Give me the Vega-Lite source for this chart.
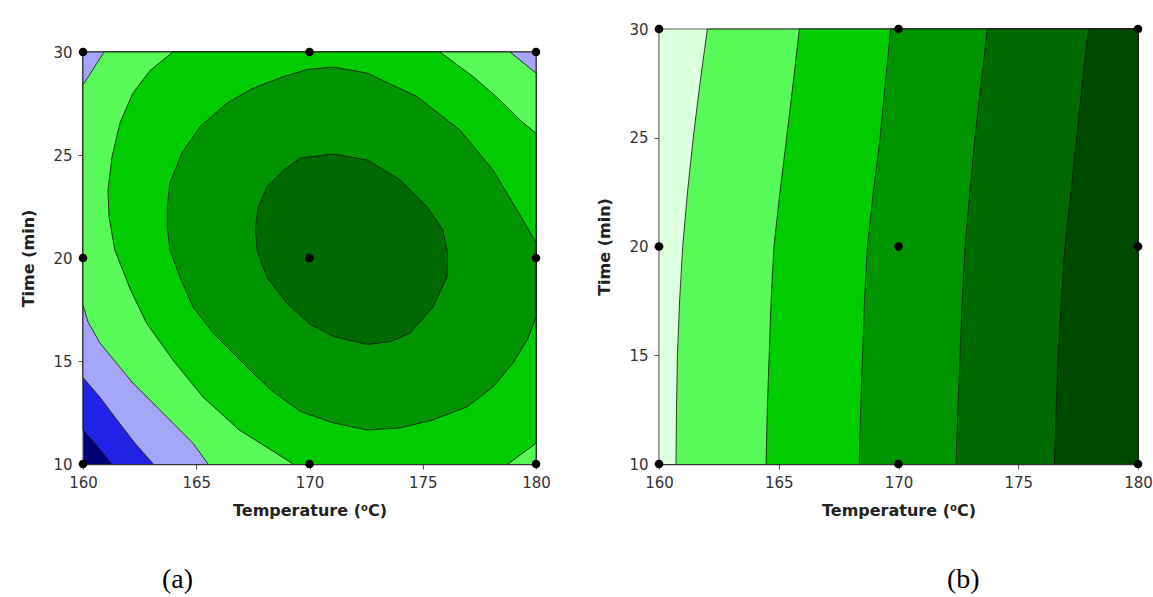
{
"$schema": "https://vega.github.io/schema/vega-lite/v6.json",
"background": "white",
"padding": {"left": 20, "top": 22, "right": 5, "bottom": 0},
"spacing": 45,
"config": {
  "view": {"stroke": null},
  "axis": {"labelFont": "DejaVu Sans", "labelFontSize": 15, "labelColor": "#333", "labelFlush": false, "titleFont": "DejaVu Sans", "titleFontSize": 16, "titleFontWeight": "bold", "titleColor": "#222", "domainColor": "#333", "domainWidth": 1.5, "tickColor": "#555", "tickSize": 5, "labelPadding": 6, "grid": false}
},
"datasets": {
  "pts": [
    {"x":160,"y":10},{"x":160,"y":20},{"x":160,"y":30},
    {"x":170,"y":10},{"x":170,"y":20},{"x":170,"y":30},
    {"x":180,"y":10},{"x":180,"y":20},{"x":180,"y":30}
  ],
  "a": [
    {"r":"P0","i":0,"x":160,"y":10},{"r":"P0","i":1,"x":160,"y":30},{"r":"P0","i":2,"x":180,"y":30},{"r":"P0","i":3,"x":180,"y":10},
    {"r":"P1","i":0,"x":161.27,"y":10},{"r":"P1","i":1,"x":160.6,"y":10.9},{"r":"P1","i":2,"x":160,"y":11.65},{"r":"P1","i":3,"x":160,"y":30},{"r":"P1","i":4,"x":180,"y":30},{"r":"P1","i":5,"x":180,"y":10},
    {"r":"P2","i":0,"x":163.1,"y":10},{"r":"P2","i":1,"x":162.3,"y":11.0},{"r":"P2","i":2,"x":161.5,"y":12.14},{"r":"P2","i":3,"x":160.7,"y":13.3},{"r":"P2","i":4,"x":160,"y":14.2},{"r":"P2","i":5,"x":160,"y":30},{"r":"P2","i":6,"x":180,"y":30},{"r":"P2","i":7,"x":180,"y":10},
    {"r":"P3","i":0,"x":165.52,"y":10},{"r":"P3","i":1,"x":164.86,"y":11.0},{"r":"P3","i":2,"x":163.7,"y":12.28},{"r":"P3","i":3,"x":162.2,"y":13.93},{"r":"P3","i":4,"x":160.75,"y":15.87},{"r":"P3","i":5,"x":160.22,"y":16.9},{"r":"P3","i":6,"x":160,"y":17.72},{"r":"P3","i":7,"x":160,"y":28.4},{"r":"P3","i":8,"x":160.93,"y":30},{"r":"P3","i":9,"x":178.85,"y":30},{"r":"P3","i":10,"x":180,"y":28.98},{"r":"P3","i":11,"x":180,"y":10},
    {"r":"P4","i":0,"x":169.27,"y":10},{"r":"P4","i":1,"x":169.0,"y":10.2},{"r":"P4","i":2,"x":166.9,"y":11.65},{"r":"P4","i":3,"x":165.3,"y":13.25},{"r":"P4","i":4,"x":163.97,"y":15.05},{"r":"P4","i":5,"x":162.8,"y":16.85},{"r":"P4","i":6,"x":162.1,"y":18.45},{"r":"P4","i":7,"x":161.4,"y":20.4},{"r":"P4","i":8,"x":161.15,"y":22.0},{"r":"P4","i":9,"x":161.1,"y":23.3},{"r":"P4","i":10,"x":161.28,"y":24.9},{"r":"P4","i":11,"x":161.63,"y":26.55},{"r":"P4","i":12,"x":162.2,"y":28.0},{"r":"P4","i":13,"x":162.96,"y":29.1},{"r":"P4","i":14,"x":163.97,"y":30},{"r":"P4","i":15,"x":175.76,"y":30},{"r":"P4","i":16,"x":177.23,"y":28.8},{"r":"P4","i":17,"x":178.41,"y":27.67},{"r":"P4","i":18,"x":179.29,"y":26.7},{"r":"P4","i":19,"x":180,"y":26.05},{"r":"P4","i":20,"x":180,"y":11.0},{"r":"P4","i":21,"x":178.76,"y":10},
    {"r":"P5","i":0,"x":171.04,"y":29.27},{"r":"P5","i":1,"x":172.54,"y":28.98},{"r":"P5","i":2,"x":174.75,"y":27.83},{"r":"P5","i":3,"x":176.64,"y":26.21},{"r":"P5","i":4,"x":178.1,"y":24.27},{"r":"P5","i":5,"x":179.16,"y":22.33},{"r":"P5","i":6,"x":180,"y":20.75},{"r":"P5","i":7,"x":180,"y":17.1},{"r":"P5","i":8,"x":179.6,"y":16.0},{"r":"P5","i":9,"x":178.98,"y":14.9},{"r":"P5","i":10,"x":178.1,"y":13.74},{"r":"P5","i":11,"x":176.95,"y":12.77},{"r":"P5","i":12,"x":175.45,"y":12.14},{"r":"P5","i":13,"x":174.0,"y":11.75},{"r":"P5","i":14,"x":172.54,"y":11.65},{"r":"P5","i":15,"x":171.04,"y":12.0},{"r":"P5","i":16,"x":169.6,"y":12.55},{"r":"P5","i":17,"x":168.4,"y":13.5},{"r":"P5","i":18,"x":167.5,"y":14.42},{"r":"P5","i":19,"x":166.62,"y":15.39},{"r":"P5","i":20,"x":165.74,"y":16.36},{"r":"P5","i":21,"x":164.86,"y":17.62},{"r":"P5","i":22,"x":164.28,"y":19.08},{"r":"P5","i":23,"x":163.84,"y":20.39},{"r":"P5","i":24,"x":163.72,"y":21.5},{"r":"P5","i":25,"x":163.72,"y":22.5},{"r":"P5","i":26,"x":163.84,"y":23.64},{"r":"P5","i":27,"x":164.37,"y":25.1},{"r":"P5","i":28,"x":165.17,"y":26.37},{"r":"P5","i":29,"x":166.36,"y":27.52},{"r":"P5","i":30,"x":167.5,"y":28.24},{"r":"P5","i":31,"x":168.83,"y":28.8},{"r":"P5","i":32,"x":169.9,"y":29.15},{"r":"P5","i":33,"x":171.04,"y":29.27},
    {"r":"P6","i":0,"x":167.6,"y":21.4},{"r":"P6","i":1,"x":167.7,"y":20.3},{"r":"P6","i":2,"x":168.12,"y":19.08},{"r":"P6","i":3,"x":169.0,"y":17.8},{"r":"P6","i":4,"x":170.0,"y":16.8},{"r":"P6","i":5,"x":171.04,"y":16.2},{"r":"P6","i":6,"x":172.54,"y":15.8},{"r":"P6","i":7,"x":173.6,"y":15.95},{"r":"P6","i":8,"x":174.44,"y":16.36},{"r":"P6","i":9,"x":175.45,"y":17.62},{"r":"P6","i":10,"x":176.07,"y":19.08},{"r":"P6","i":11,"x":176.1,"y":20.2},{"r":"P6","i":12,"x":175.89,"y":21.36},{"r":"P6","i":13,"x":175.19,"y":22.48},{"r":"P6","i":14,"x":174.0,"y":23.79},{"r":"P6","i":15,"x":172.54,"y":24.76},{"r":"P6","i":16,"x":171.04,"y":25.05},{"r":"P6","i":17,"x":169.58,"y":24.85},{"r":"P6","i":18,"x":168.9,"y":24.3},{"r":"P6","i":19,"x":168.12,"y":23.45},{"r":"P6","i":20,"x":167.75,"y":22.5},{"r":"P6","i":21,"x":167.6,"y":21.4}
  ],
  "b": [
    {"r":"Q0","i":0,"x":160,"y":10},{"r":"Q0","i":1,"x":160,"y":30},{"r":"Q0","i":2,"x":180,"y":30},{"r":"Q0","i":3,"x":180,"y":10},
    {"r":"Q1","i":0,"x":160.71,"y":10},{"r":"Q1","i":1,"x":160.73,"y":12.5},{"r":"Q1","i":2,"x":160.77,"y":15},{"r":"Q1","i":3,"x":160.86,"y":17.5},{"r":"Q1","i":4,"x":160.99,"y":20},{"r":"Q1","i":5,"x":161.19,"y":22.5},{"r":"Q1","i":6,"x":161.43,"y":25},{"r":"Q1","i":7,"x":161.71,"y":27.5},{"r":"Q1","i":8,"x":162.02,"y":30},{"r":"Q1","i":9,"x":180,"y":30},{"r":"Q1","i":10,"x":180,"y":10},
    {"r":"Q2","i":0,"x":164.47,"y":10},{"r":"Q2","i":1,"x":164.52,"y":12.5},{"r":"Q2","i":2,"x":164.6,"y":15},{"r":"Q2","i":3,"x":164.68,"y":17.5},{"r":"Q2","i":4,"x":164.8,"y":20},{"r":"Q2","i":5,"x":165.05,"y":22.5},{"r":"Q2","i":6,"x":165.33,"y":25},{"r":"Q2","i":7,"x":165.6,"y":27.5},{"r":"Q2","i":8,"x":165.86,"y":30},{"r":"Q2","i":9,"x":180,"y":30},{"r":"Q2","i":10,"x":180,"y":10},
    {"r":"Q3","i":0,"x":168.36,"y":10},{"r":"Q3","i":1,"x":168.42,"y":12.5},{"r":"Q3","i":2,"x":168.5,"y":15},{"r":"Q3","i":3,"x":168.58,"y":17.5},{"r":"Q3","i":4,"x":168.7,"y":20},{"r":"Q3","i":5,"x":168.95,"y":22.5},{"r":"Q3","i":6,"x":169.23,"y":25},{"r":"Q3","i":7,"x":169.45,"y":27.5},{"r":"Q3","i":8,"x":169.67,"y":30},{"r":"Q3","i":9,"x":180,"y":30},{"r":"Q3","i":10,"x":180,"y":10},
    {"r":"Q4","i":0,"x":172.4,"y":10},{"r":"Q4","i":1,"x":172.48,"y":12.5},{"r":"Q4","i":2,"x":172.57,"y":15},{"r":"Q4","i":3,"x":172.66,"y":17.5},{"r":"Q4","i":4,"x":172.78,"y":20},{"r":"Q4","i":5,"x":172.98,"y":22.5},{"r":"Q4","i":6,"x":173.19,"y":25},{"r":"Q4","i":7,"x":173.45,"y":27.5},{"r":"Q4","i":8,"x":173.71,"y":30},{"r":"Q4","i":9,"x":180,"y":30},{"r":"Q4","i":10,"x":180,"y":10},
    {"r":"Q5","i":0,"x":176.51,"y":10},{"r":"Q5","i":1,"x":176.58,"y":12.5},{"r":"Q5","i":2,"x":176.67,"y":15},{"r":"Q5","i":3,"x":176.8,"y":17.5},{"r":"Q5","i":4,"x":176.95,"y":20},{"r":"Q5","i":5,"x":177.2,"y":22.5},{"r":"Q5","i":6,"x":177.44,"y":25},{"r":"Q5","i":7,"x":177.68,"y":27.5},{"r":"Q5","i":8,"x":177.93,"y":30},{"r":"Q5","i":9,"x":180,"y":30},{"r":"Q5","i":10,"x":180,"y":10}
  ]
},
"hconcat": [
  {
    "width": 453, "height": 435,
    "title": {"text": "(a)", "orient": "bottom", "anchor": "start", "frame": "group", "dx": 79, "offset": 48, "font": "Liberation Serif", "fontSize": 28, "fontWeight": "normal", "color": "black"},
    "encoding": {
      "x": {"field": "x", "type": "quantitative", "scale": {"domain": [160, 180], "nice": false, "zero": false}, "axis": {"values": [160, 165, 170, 175, 180], "title": "Temperature (⁰C)", "titlePadding": 12}},
      "y": {"field": "y", "type": "quantitative", "scale": {"domain": [10, 30], "nice": false, "zero": false, "range": [435, 23]}, "axis": {"values": [10, 15, 20, 25, 30], "title": "Time (min)", "titlePadding": 16}},
      "order": {"field": "i", "type": "quantitative"}
    },
    "layer": [
      {"data": {"name": "a"}, "transform": [{"filter": "datum.r == 'P0'"}], "mark": {"type": "line", "filled": true, "fill": "#000078", "stroke": "#666", "strokeWidth": 1}},
      {"data": {"name": "a"}, "transform": [{"filter": "datum.r == 'P1'"}], "mark": {"type": "line", "filled": true, "fill": "#2222e6", "stroke": "#111", "strokeWidth": 0.8}},
      {"data": {"name": "a"}, "transform": [{"filter": "datum.r == 'P2'"}], "mark": {"type": "line", "filled": true, "fill": "#a6a6f8", "stroke": "#111", "strokeWidth": 0.8}},
      {"data": {"name": "a"}, "transform": [{"filter": "datum.r == 'P3'"}], "mark": {"type": "line", "filled": true, "fill": "#58fa58", "stroke": "#111", "strokeWidth": 0.8}},
      {"data": {"name": "a"}, "transform": [{"filter": "datum.r == 'P4'"}], "mark": {"type": "line", "filled": true, "fill": "#00cc00", "stroke": "#111", "strokeWidth": 0.8}},
      {"data": {"name": "a"}, "transform": [{"filter": "datum.r == 'P5'"}], "mark": {"type": "line", "filled": true, "fill": "#009400", "stroke": "#111", "strokeWidth": 0.8}},
      {"data": {"name": "a"}, "transform": [{"filter": "datum.r == 'P6'"}], "mark": {"type": "line", "filled": true, "fill": "#006a00", "stroke": "#111", "strokeWidth": 0.8}},
      {"data": {"name": "pts"}, "mark": {"type": "circle", "size": 75, "color": "black", "opacity": 1, "clip": false}}
    ]
  },
  {
    "width": 479, "height": 435,
    "title": {"text": "(b)", "orient": "bottom", "anchor": "start", "frame": "group", "dx": 288, "offset": 48, "font": "Liberation Serif", "fontSize": 28, "fontWeight": "normal", "color": "black"},
    "encoding": {
      "x": {"field": "x", "type": "quantitative", "scale": {"domain": [160, 180], "nice": false, "zero": false}, "axis": {"values": [160, 165, 170, 175, 180], "title": "Temperature (⁰C)", "titlePadding": 12}},
      "y": {"field": "y", "type": "quantitative", "scale": {"domain": [10, 30], "nice": false, "zero": false}, "axis": {"values": [10, 15, 20, 25, 30], "title": "Time (min)", "titlePadding": 16}},
      "order": {"field": "i", "type": "quantitative"}
    },
    "layer": [
      {"data": {"name": "b"}, "transform": [{"filter": "datum.r == 'Q0'"}], "mark": {"type": "line", "filled": true, "fill": "#dcffdc", "stroke": "#666", "strokeWidth": 1}},
      {"data": {"name": "b"}, "transform": [{"filter": "datum.r == 'Q1'"}], "mark": {"type": "line", "filled": true, "fill": "#58fa58", "stroke": "#111", "strokeWidth": 0.8}},
      {"data": {"name": "b"}, "transform": [{"filter": "datum.r == 'Q2'"}], "mark": {"type": "line", "filled": true, "fill": "#00cc00", "stroke": "#111", "strokeWidth": 0.8}},
      {"data": {"name": "b"}, "transform": [{"filter": "datum.r == 'Q3'"}], "mark": {"type": "line", "filled": true, "fill": "#009400", "stroke": "#111", "strokeWidth": 0.8}},
      {"data": {"name": "b"}, "transform": [{"filter": "datum.r == 'Q4'"}], "mark": {"type": "line", "filled": true, "fill": "#006a00", "stroke": "#111", "strokeWidth": 0.8}},
      {"data": {"name": "b"}, "transform": [{"filter": "datum.r == 'Q5'"}], "mark": {"type": "line", "filled": true, "fill": "#004a00", "stroke": "#111", "strokeWidth": 0.8}},
      {"data": {"name": "pts"}, "mark": {"type": "circle", "size": 75, "color": "black", "opacity": 1, "clip": false}}
    ]
  }
]
}
